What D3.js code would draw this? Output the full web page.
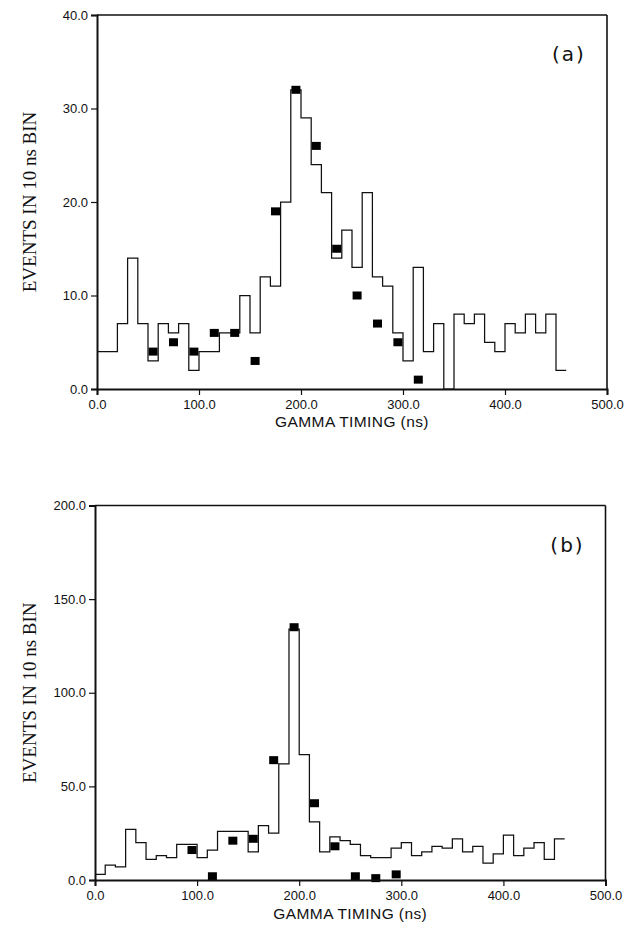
<!DOCTYPE html>
<html>
<head>
<meta charset="utf-8">
<script src="https://cdn.jsdelivr.net/npm/d3@7"></script>
<style>
  html, body { margin: 0; padding: 0; background: #fff; }
  svg { display: block; }
</style>
</head>
<body>
<svg id="chart" width="631" height="928"></svg>
<script>
// ---------- data ----------
const binWidth = 10;            // ns per bin
const xTicks = [0, 100, 200, 300, 400, 500];

// panel (a)
const countsA = [4,4,7,14,7,3,7,6,7,2,4,4,6,6,10,6,12,11,20,32,29,24,21,14,17,13,21,12,11,6,3,13,4,7,0,8,7,8,5,4,7,6,8,6,8,2];
const pointsXA = [55,75,95,115,135,155,175,195,215,235,255,275,295,315];
const pointsYA = [4,5,4,6,6,3,19,32,26,15,10,7,5,1];
const yTicksA = [0, 10, 20, 30, 40];

// panel (b)
const countsB = [3,8,7,27,20,11,13,12,19,19,12,16,26,26,26,15,29,25,62,134,67,31,15,23,21,19,13,12,12,17,20,13,15,18,17,22,15,18,9,14,24,13,17,20,11,22];
const pointsXB = [95,115,135,155,175,195,215,235,255,275,295];
const pointsYB = [16,2,21,22,64,135,41,18,2,1,3];
const yTicksB = [0, 50, 100, 150, 200];

const yLabel = "EVENTS IN 10 ns BIN";
const xLabel = "GAMMA TIMING (ns)";

// ---------- drawing ----------
const svg = d3.select("#chart");

function panel(cfg) {
  const g = svg.append("g");
  const x = d3.scaleLinear().domain([0, 500]).range([cfg.left, cfg.right]);
  const y = d3.scaleLinear().domain([0, cfg.yMax]).range([cfg.bottom, cfg.top]);

  // histogram as step line
  const pts = cfg.counts.map((c, i) => [i * binWidth, c]);
  pts.push([cfg.counts.length * binWidth, cfg.counts[cfg.counts.length - 1]]);
  const line = d3.line().x(d => x(d[0])).y(d => y(d[1])).curve(d3.curveStepAfter);
  g.append("path").datum(pts)
    .attr("d", line)
    .attr("fill", "none")
    .attr("stroke", "#111")
    .attr("stroke-width", 1.25);

  // squares
  const sw = 9, sh = 8;
  g.selectAll("rect.pt").data(cfg.px.map((v, i) => [v, cfg.py[i]]))
    .enter().append("rect")
    .attr("x", d => x(d[0]) - sw / 2)
    .attr("y", d => y(d[1]) - sh / 2)
    .attr("width", sw).attr("height", sh)
    .attr("fill", "#000");

  // frame: top & right
  g.append("line").attr("x1", cfg.left).attr("x2", cfg.right).attr("y1", cfg.top).attr("y2", cfg.top)
    .attr("stroke", "#111").attr("stroke-width", 1.6);
  g.append("line").attr("x1", cfg.right).attr("x2", cfg.right).attr("y1", cfg.top).attr("y2", cfg.bottom)
    .attr("stroke", "#111").attr("stroke-width", 1.6);

  // axes
  const xAxis = d3.axisBottom(x).tickValues(xTicks).tickFormat(d3.format(".1f")).tickSize(6).tickPadding(5);
  const gx = g.append("g").attr("transform", `translate(0,${cfg.bottom})`).call(xAxis);
  const yAxis = d3.axisLeft(y).tickValues(cfg.yTicks).tickFormat(d3.format(".1f")).tickSize(6).tickPadding(3);
  const gy = g.append("g").attr("transform", `translate(${cfg.left},0)`).call(yAxis);
  [gx, gy].forEach(a => {
    a.select(".domain").attr("stroke", "#111").attr("stroke-width", 2);
    a.selectAll(".tick line").attr("stroke", "#111").attr("stroke-width", 1.2);
    a.selectAll(".tick text").attr("fill", "#111")
      .style("font-family", "'Liberation Sans', Arial, sans-serif").style("font-size", "13px");
  });

  // axis titles
  g.append("text")
    .attr("x", (cfg.left + cfg.right) / 2)
    .attr("y", cfg.bottom + cfg.titleOff)
    .attr("text-anchor", "middle")
    .style("font-family", "'Liberation Sans', Arial, sans-serif")
    .style("font-size", "15.5px")
    .style("letter-spacing", "0.4px")
    .attr("fill", "#111")
    .text(xLabel);

  g.append("text")
    .attr("transform", `translate(36,${(cfg.top + cfg.bottom) / 2}) rotate(-90)`)
    .attr("text-anchor", "middle")
    .style("font-family", "'Liberation Serif', 'Times New Roman', serif")
    .style("font-size", "19px")
    .attr("fill", "#111")
    .text(yLabel);

  // panel tag
  g.append("text")
    .attr("x", cfg.right - 38)
    .attr("y", cfg.top + 46)
    .attr("text-anchor", "middle")
    .style("font-family", "'DejaVu Sans', sans-serif")
    .style("font-size", "20px")
    .style("letter-spacing", "2px")
    .attr("fill", "#111")
    .text(cfg.tag);
}

panel({ left: 97, right: 607, top: 15, bottom: 389, yMax: 40, yTicks: yTicksA, titleOff: 38,
        counts: countsA, px: pointsXA, py: pointsYA, tag: "(a)" });
panel({ left: 95, right: 605.5, top: 505.5, bottom: 880, yMax: 200, yTicks: yTicksB, titleOff: 39,
        counts: countsB, px: pointsXB, py: pointsYB, tag: "(b)" });
</script>
</body>
</html>
